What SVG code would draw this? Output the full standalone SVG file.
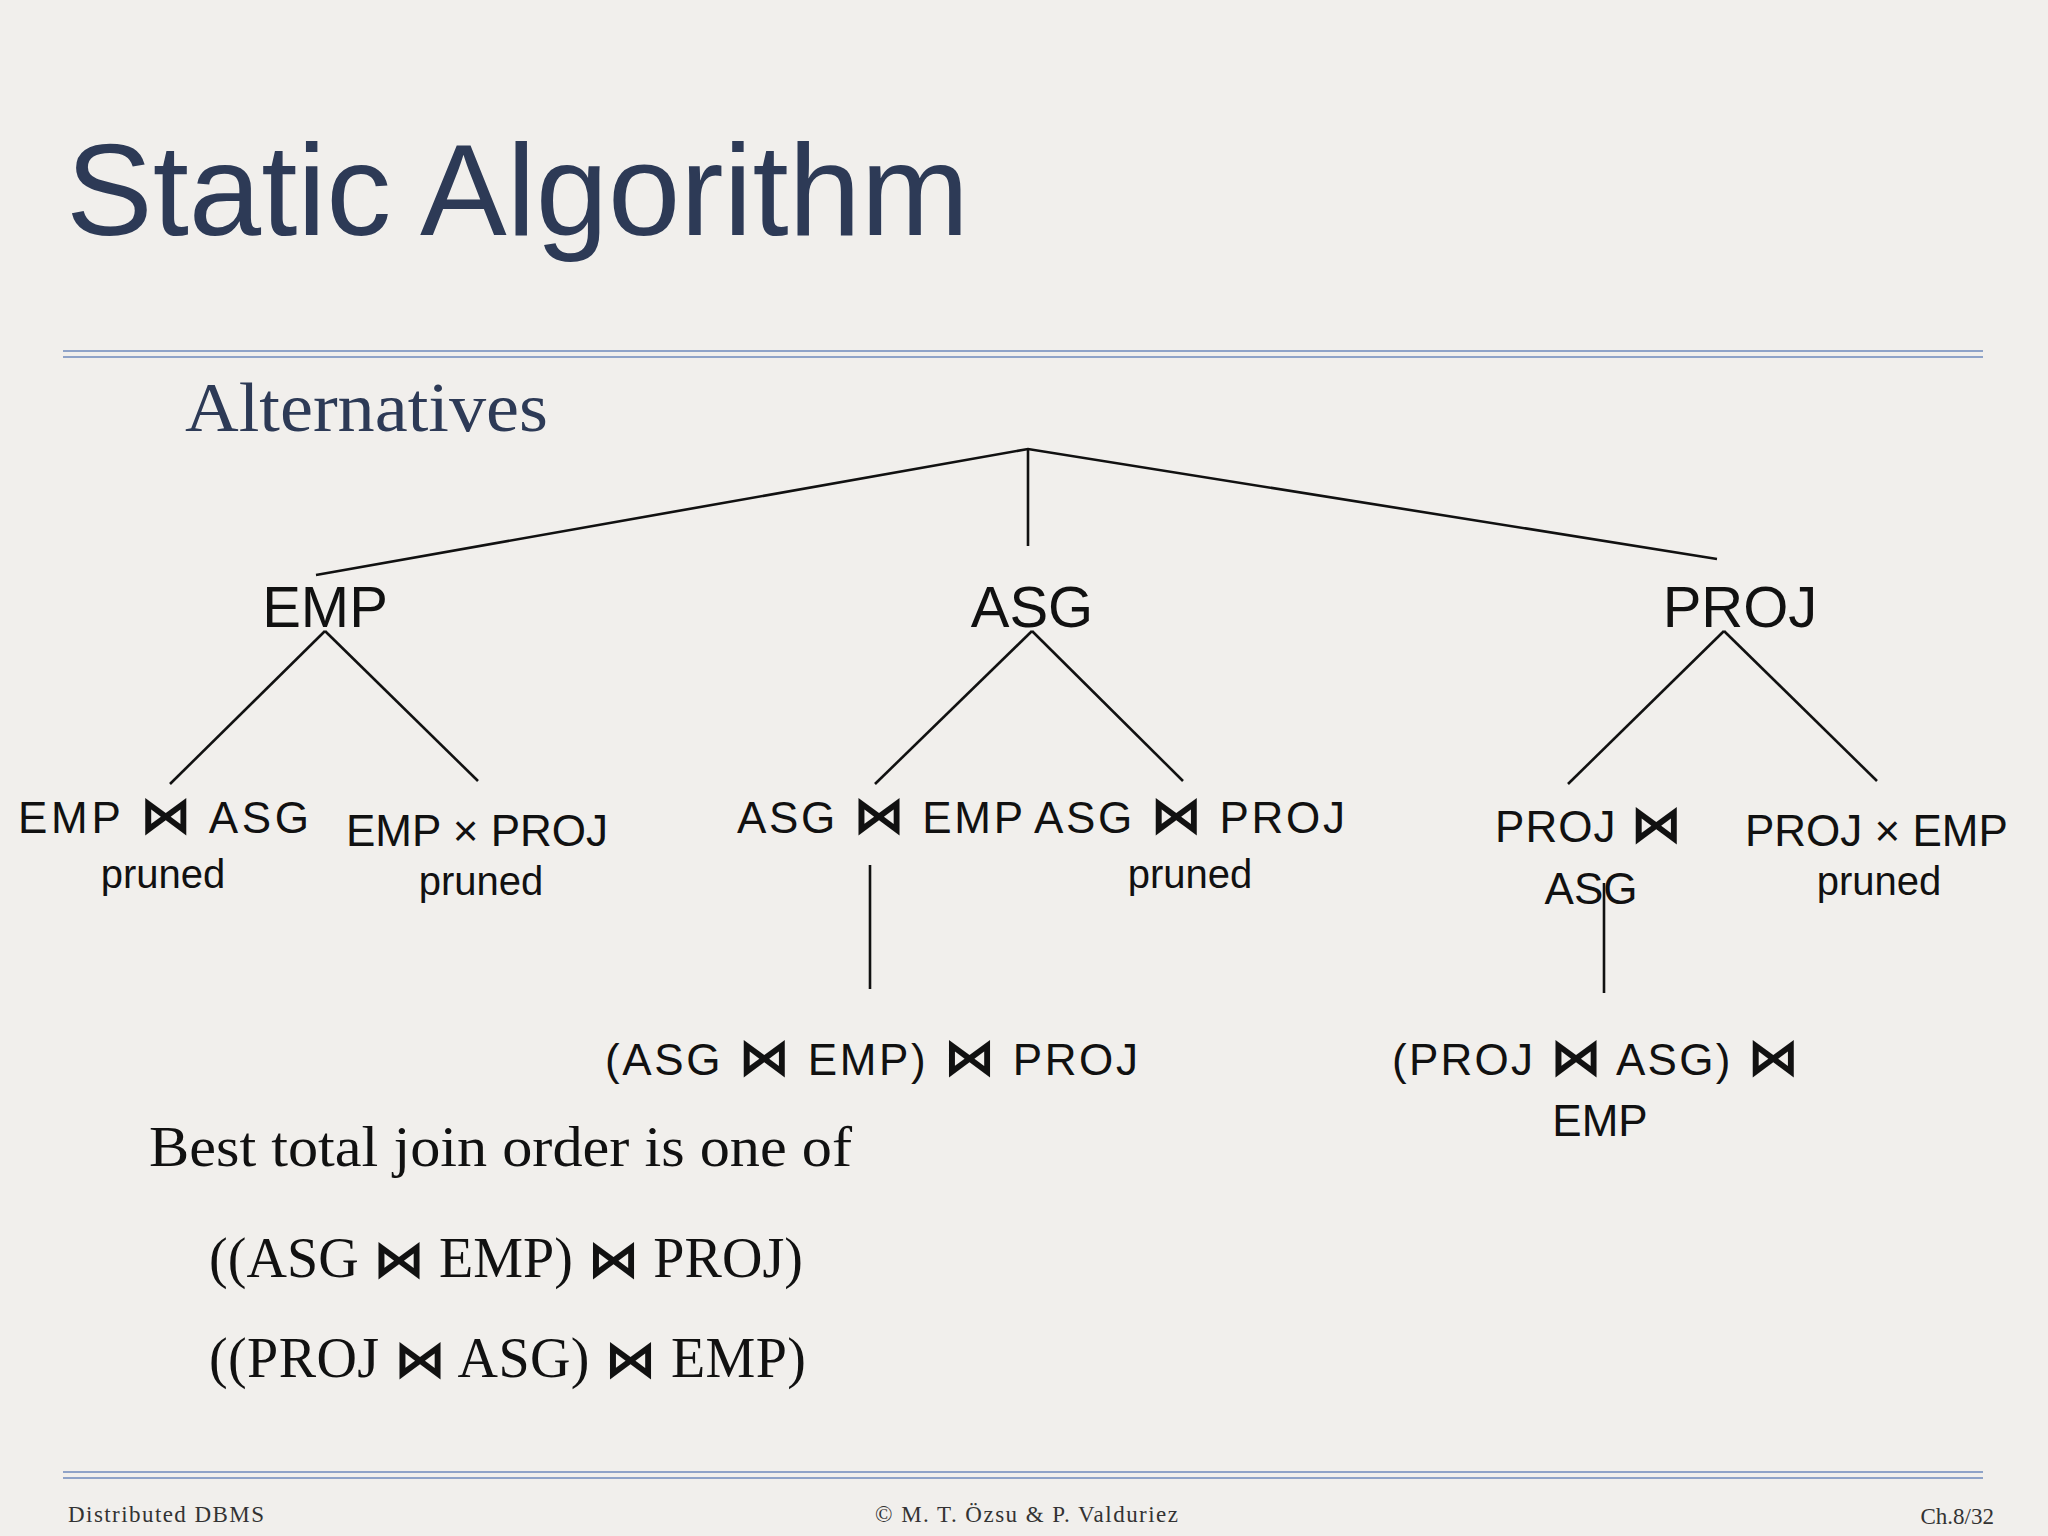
<svg xmlns="http://www.w3.org/2000/svg" width="2048" height="1536" viewBox="0 0 2048 1536">
<style>
.t{font-family:"Liberation Sans",Arial,sans-serif;fill:#111}
.s{font-family:"Liberation Serif","Times New Roman",serif}
.j{font-family:"DejaVu Sans",sans-serif;font-weight:bold;font-size:52px}
.l{stroke:#111;stroke-width:2.6;fill:none}
.r{stroke:#8fa3c8;stroke-width:2}
</style>
<rect width="2048" height="1536" fill="#f1efec"/>
<text x="66" y="235" font-family="Liberation Sans,Arial,sans-serif" font-size="130" fill="#2d3a56">Static Algorithm</text>
<line class="r" x1="63" y1="351" x2="1983" y2="351"/><line class="r" x1="63" y1="357" x2="1983" y2="357"/>
<text class="s" x="185" y="431" font-size="70" fill="#2d3a56" textLength="363" lengthAdjust="spacingAndGlyphs">Alternatives</text>
<g id="connectors">
<polyline class="l" points="316,575 1028,449 1717,559"/>
<line class="l" x1="1028" y1="449" x2="1028" y2="546"/>
<line class="l" x1="325" y1="631" x2="170" y2="784"/><line class="l" x1="325" y1="631" x2="478" y2="781"/>
<line class="l" x1="1032" y1="631" x2="875" y2="784"/><line class="l" x1="1032" y1="631" x2="1183" y2="781"/>
<line class="l" x1="1724" y1="631" x2="1568" y2="784"/><line class="l" x1="1724" y1="631" x2="1877" y2="781"/>
<line class="l" x1="870" y1="865" x2="870" y2="989"/>
<line class="l" x1="1604" y1="883" x2="1604" y2="993"/>
</g>
<g id="emp"><text class="t" x="325" y="627" font-size="58" text-anchor="middle">EMP</text></g>
<g id="asg"><text class="t" x="1032" y="627" font-size="58" text-anchor="middle">ASG</text></g>
<g id="proj"><text class="t" x="1740" y="627" font-size="58" text-anchor="middle">PROJ</text></g>
<g id="emp-asg"><text class="t" x="18" y="833" font-size="44" textLength="291">EMP <tspan class="j">⋈</tspan> ASG</text>
<text class="t" x="163" y="888" font-size="40" text-anchor="middle">pruned</text></g>
<g id="emp-proj"><text class="t" x="346" y="846" font-size="44">EMP × PROJ</text>
<text class="t" x="481" y="895" font-size="40" text-anchor="middle">pruned</text></g>
<g id="asg-emp"><text class="t" x="737" y="833" font-size="44" textLength="286">ASG <tspan class="j">⋈</tspan> EMP</text></g>
<g id="asg-proj"><text class="t" x="1034" y="833" font-size="44" textLength="311">ASG <tspan class="j">⋈</tspan> PROJ</text>
<text class="t" x="1190" y="888" font-size="40" text-anchor="middle">pruned</text></g>
<g id="proj-asg"><text class="t" x="1495" y="842" font-size="44" textLength="187">PROJ <tspan class="j">⋈</tspan></text>
<text class="t" x="1591" y="904" font-size="44" text-anchor="middle">ASG</text></g>
<g id="proj-emp"><text class="t" x="1745" y="846" font-size="44">PROJ × EMP</text>
<text class="t" x="1879" y="895" font-size="40" text-anchor="middle">pruned</text></g>
<g id="asg-emp-proj"><text class="t" x="605" y="1075" font-size="44" textLength="533">(ASG <tspan class="j">⋈</tspan> EMP) <tspan class="j">⋈</tspan> PROJ</text></g>
<g id="proj-asg-emp"><text class="t" x="1392" y="1075" font-size="44" textLength="407">(PROJ <tspan class="j">⋈</tspan> ASG) <tspan class="j">⋈</tspan></text>
<text class="t" x="1600" y="1136" font-size="44" text-anchor="middle">EMP</text></g>
<text class="s" x="149" y="1166" font-size="58" fill="#111" textLength="703" lengthAdjust="spacingAndGlyphs">Best total join order is one of</text>
<text class="s" x="209" y="1277" font-size="56" fill="#111" textLength="594">((ASG <tspan class="j">⋈</tspan> EMP) <tspan class="j">⋈</tspan> PROJ)</text>
<text class="s" x="209" y="1377" font-size="56" fill="#111" textLength="597">((PROJ <tspan class="j">⋈</tspan> ASG) <tspan class="j">⋈</tspan> EMP)</text>
<line class="r" x1="63" y1="1472" x2="1983" y2="1472"/><line class="r" x1="63" y1="1478" x2="1983" y2="1478"/>
<text class="s" x="68" y="1522" font-size="23" fill="#333" textLength="196">Distributed DBMS</text>
<text class="s" x="875" y="1522" font-size="23" fill="#333" textLength="303">© M. T. Özsu &amp; P. Valduriez</text>
<text class="s" x="1994" y="1524" font-size="23" fill="#333" text-anchor="end">Ch.8/32</text>
</svg>
